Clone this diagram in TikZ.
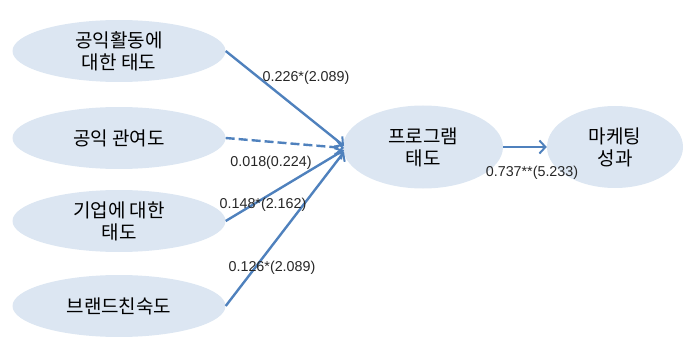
\documentclass[tikz,border=0pt]{standalone}
\usepackage{fontspec}
\newfontfamily\kr{Noto Sans CJK KR}
\newfontfamily\lab{Liberation Sans}
\usetikzlibrary{shapes.geometric,arrows.meta}
\definecolor{efill}{HTML}{DCE6F2}
\definecolor{aline}{HTML}{4F81BD}
\begin{document}
\begin{tikzpicture}[x=1pt,y=-1pt,
  ell/.style={ellipse,fill=efill,draw=none,inner sep=0pt,align=center,font=\kr\fontsize{19}{22}\selectfont},
  conn/.style={draw=aline,line width=2.4pt,-{Straight Barb[length=6pt,width=13pt,line width=2pt]}},
  lbl/.style={font=\lab\fontsize{14.3}{15}\selectfont,inner sep=0pt,text=black!85}]
\useasboundingbox (0,0) rectangle (689,337);
\node[ell,minimum width=213pt,minimum height=62pt] (e1) at (119,51) {공익활동에\\대한 태도};
\node[ell,minimum width=213pt,minimum height=62pt] (e2) at (119,138) {공익 관여도};
\node[ell,minimum width=213pt,minimum height=62pt] (e3) at (119,221) {기업에 대한\\태도};
\node[ell,minimum width=213pt,minimum height=62pt] (e4) at (119,306) {브랜드친숙도};
\node[ell,minimum width=160pt,minimum height=83pt] (p) at (423,147) {프로그램\\태도};
\node[ell,minimum width=136pt,minimum height=82pt] (m) at (615,147) {마케팅\\성과};
\coordinate (t1) at (344,146);
\coordinate (t2) at (344,148);
\coordinate (t3) at (344,150);
\coordinate (t4) at (344,152);
\draw[conn] (e1.east) -- (t1);
\draw[conn,dashed,dash pattern=on 9pt off 4pt] (e2.east) -- (t2);
\draw[conn] (e3.east) -- (t3);
\draw[conn] (e4.east) -- (t4);
\draw[conn] (p.east) -- (m.west);
\node[lbl] (l1) at (306,78) {0.226*(2.089)};
\node[lbl] (l2) at (271,163) {0.018(0.224)};
\node[lbl] (l3) at (263,205) {0.148*(2.162)};
\node[lbl] (l4) at (272,268) {0.126*(2.089)};
\node[lbl] (l5) at (532,173) {0.737**(5.233)};
\end{tikzpicture}
\end{document}
